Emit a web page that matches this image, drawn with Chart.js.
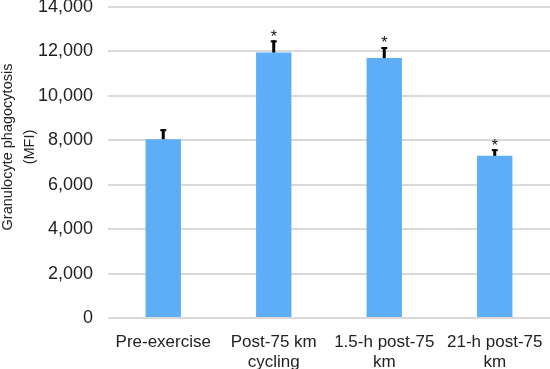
<!DOCTYPE html>
<html>
<head>
<meta charset="utf-8">
<script src="https://cdn.jsdelivr.net/npm/chart.js@4"></script>
<style>
  html, body { margin: 0; padding: 0; background: #fff; }
  #wrap { width: 550px; height: 369px; }
</style>
</head>
<body>
<div id="wrap"><canvas id="chart"></canvas></div>
<script>
// chart values
const labels = ['Pre-exercise', ['Post-75 km', 'cycling'], ['1.5-h post-75', 'km'], ['21-h post-75', 'km']];
const phagocytosis = [8050, 11950, 11700, 7300];
const errorUp = [450, 550, 500, 300];
const significant = [false, true, true, true];
const yTicks = [0, 2000, 4000, 6000, 8000, 10000, 12000, 14000];
const yTitle = ['Granulocyte phagocytosis', '(MFI)'];

const FONT = '"Liberation Sans", Arial, sans-serif';

// upward error bars, asterisks and the y title (sits a bit above the axis middle)
const extras = {
  id: 'extras',
  afterDatasetsDraw(chart) {
    const ctx = chart.ctx;
    const y = chart.scales.y;
    const meta = chart.getDatasetMeta(0);
    ctx.save();
    meta.data.forEach((bar, i) => {
      const x = bar.x;
      const top = y.getPixelForValue(phagocytosis[i] + errorUp[i]);
      ctx.strokeStyle = '#000';
      ctx.lineWidth = 3;
      ctx.beginPath();
      ctx.moveTo(x, bar.y);
      ctx.lineTo(x, top);
      ctx.stroke();
      ctx.lineWidth = 2;
      ctx.beginPath();
      ctx.moveTo(x - 3, top + 1);
      ctx.lineTo(x + 3, top + 1);
      ctx.stroke();
      if (significant[i]) {
        ctx.fillStyle = '#111';
        ctx.font = '16px ' + FONT;
        ctx.textAlign = 'center';
        ctx.textBaseline = 'bottom';
        ctx.fillText('*', x, top + 5);
      }
    });

    ctx.translate(19, 147);
    ctx.rotate(-Math.PI / 2);
    ctx.fillStyle = '#222';
    ctx.font = '14.5px ' + FONT;
    ctx.textAlign = 'center';
    ctx.textBaseline = 'middle';
    ctx.fillText(yTitle[0], 0, -11);
    ctx.fillText(yTitle[1], 0, 11);
    ctx.restore();
  }
};

new Chart(document.getElementById('chart'), {
  type: 'bar',
  data: {
    labels: labels,
    datasets: [{
      data: phagocytosis,
      backgroundColor: '#5EAEF7',
      borderWidth: 0,
      categoryPercentage: 1,
      barPercentage: 0.32
    }]
  },
  options: {
    responsive: true,
    maintainAspectRatio: false,
    animation: false,
    layout: { padding: { top: 7, right: 0, left: 0, bottom: 0 } },
    plugins: {
      legend: { display: false },
      tooltip: { enabled: false }
    },
    scales: {
      x: {
        grid: { display: false },
        border: { display: false },
        afterFit(axis) {
          axis.height = 51;
          axis.paddingLeft = 0;
          axis.paddingRight = 0;
        },
        ticks: {
          color: '#222',
          font: { family: FONT, size: 17, lineHeight: 1.2 },
          maxRotation: 0,
          autoSkip: false,
          padding: 6
        }
      },
      y: {
        min: 0,
        max: 14000,
        afterBuildTicks(axis) { axis.ticks = yTicks.map(v => ({ value: v })); },
        afterFit(axis) {
          axis.width = 108;
          axis.paddingTop = 0;
          axis.paddingBottom = 0;
        },
        grid: { color: '#d9d9d9', lineWidth: 2, drawTicks: false },
        border: { display: false },
        ticks: {
          color: '#222',
          padding: 15,
          font: { family: FONT, size: 18 },
          callback: v => v.toLocaleString('en-US')
        }
      }
    }
  },
  plugins: [extras]
});
</script>
</body>
</html>
